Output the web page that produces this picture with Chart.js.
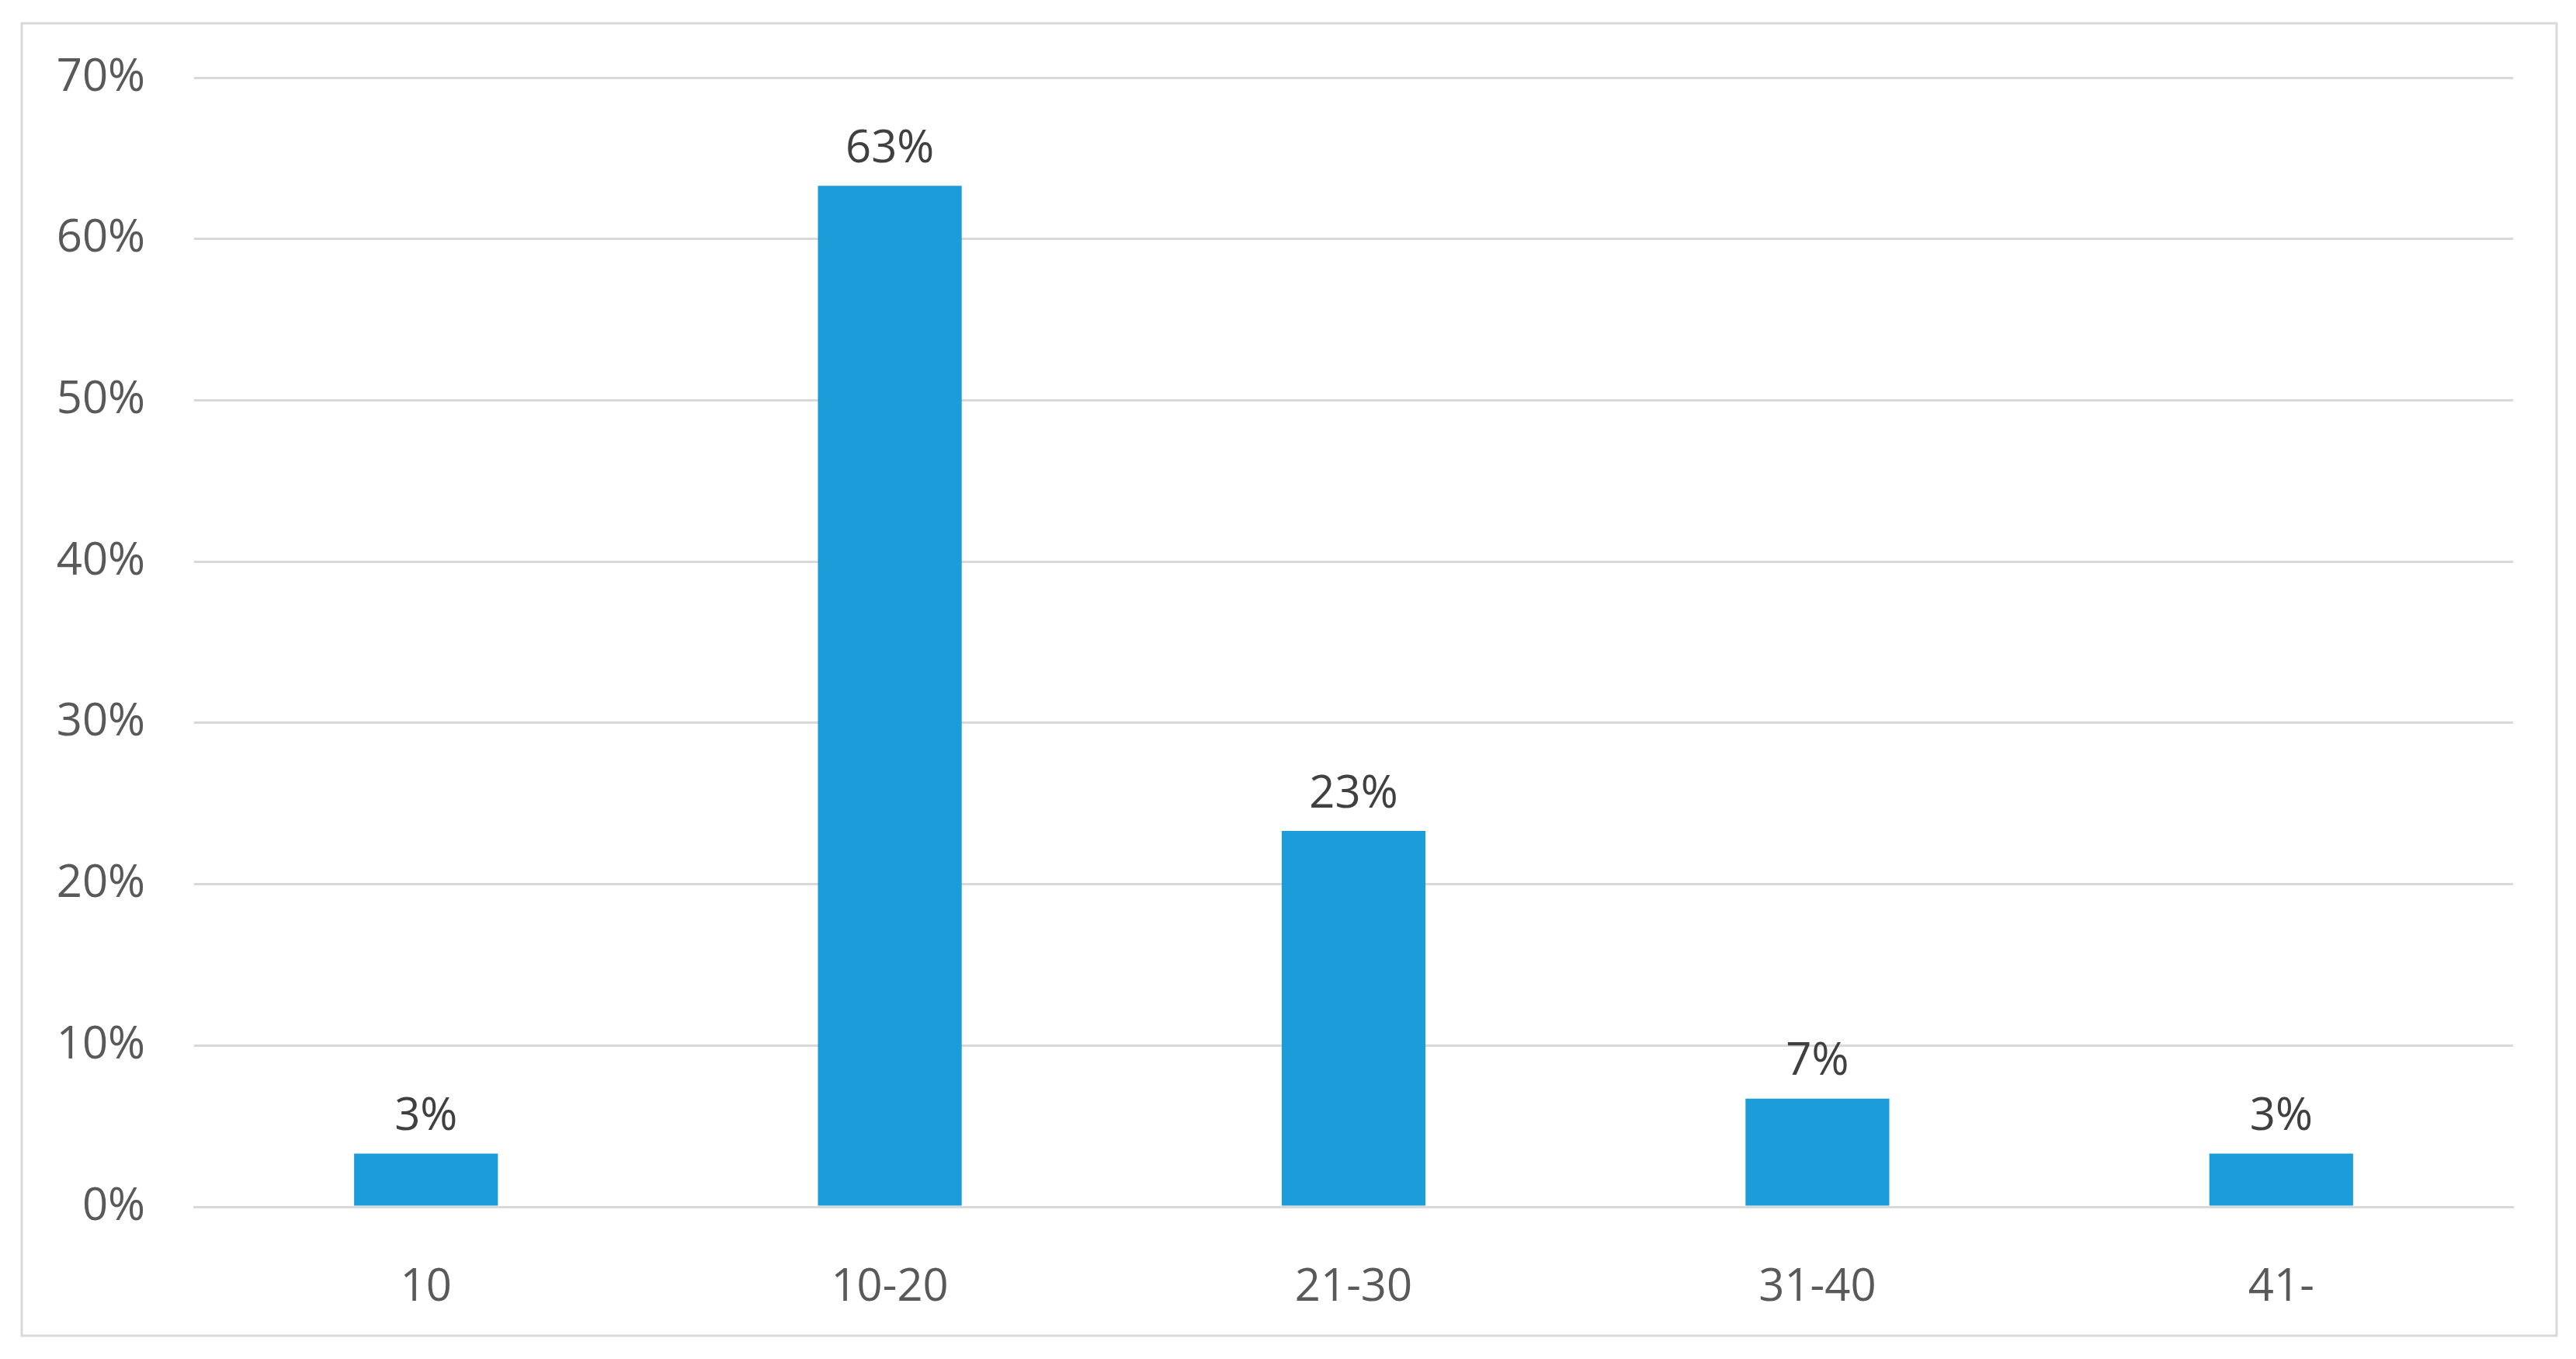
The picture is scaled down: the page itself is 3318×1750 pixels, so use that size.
<!DOCTYPE html>
<html><head><meta charset="utf-8">
<script src="https://cdn.jsdelivr.net/npm/chart.js@4"></script>
<style>html,body{margin:0;padding:0;background:#fff}canvas{display:block}</style>
</head><body>
<canvas id="c" width="3318" height="1750"></canvas>
<script>
const categories = ["10","10-20","21-30","31-40","41-"];
const values = [3.3, 63.3, 23.3, 6.7, 3.3];
const valueLabels = ["3%","63%","23%","7%","3%"];
const yTicks = [0,10,20,30,40,50,60,70];

const frame = {id:'frame', beforeDraw(ch){const c=ch.ctx;c.save();c.fillStyle='#fff';c.fillRect(0,0,ch.width,ch.height);c.strokeStyle='#d9d9d9';c.lineWidth=3;c.strokeRect(28,30,3265,1690);c.restore();}};
const labels = {id:'labels', afterDatasetsDraw(ch){const c=ch.ctx;c.save();c.font='58px "Open Sans"';c.fillStyle='#404040';c.textAlign='center';c.textBaseline='bottom';
 ch.getDatasetMeta(0).data.forEach((b,i)=>{c.fillText(valueLabels[i],b.x,b.y-18);});c.restore();}};

new Chart(document.getElementById('c'),{
 type:'bar',
 data:{labels:categories,datasets:[{data:values,backgroundColor:'#1c9cd8',barPercentage:0.62,categoryPercentage:0.5}]},
 options:{responsive:false,animation:false,
  layout:{padding:{top:100,right:81,left:0,bottom:0}},
  plugins:{legend:{display:false},tooltip:{enabled:false}},
  scales:{
   y:{min:0,max:70,afterFit(s){s.width=250;},
      afterBuildTicks(s){s.ticks=yTicks.map(v=>({value:v}));},
      grid:{color:'#d9d9d9',lineWidth:3,drawTicks:false},border:{display:false},
      ticks:{padding:63,color:'#595959',font:{size:58,family:'"Open Sans"'},callback:v=>v+'%'}},
   x:{afterFit(s){s.height=196;},grid:{display:false},border:{display:true,color:'#d9d9d9',width:3},
      ticks:{padding:62,color:'#595959',font:{size:58,family:'"Open Sans"'}}}
  }},
 plugins:[frame,labels]
});
</script></body></html>
